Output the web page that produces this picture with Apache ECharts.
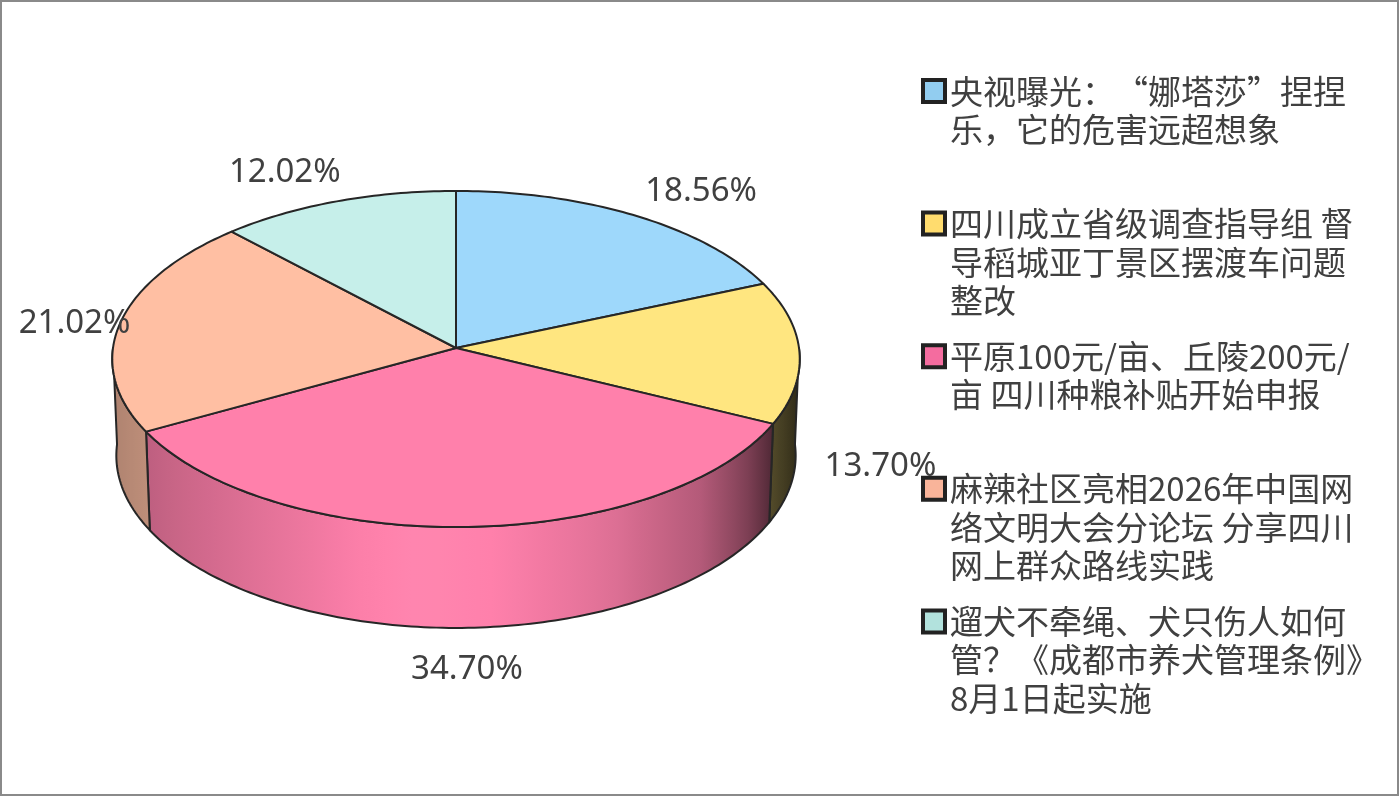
<!DOCTYPE html>
<html><head><meta charset="utf-8">
<script src="https://cdn.jsdelivr.net/npm/echarts@6/dist/echarts.min.js"></script>
<style>html,body{margin:0;padding:0;background:#fff}#c{width:1400px;height:797px}</style>
</head><body><div id="c"></div>
<script>
// ---------------- data ----------------
const categories = [
  '央视曝光：“娜塔莎”捏捏乐，它的危害远超想象',
  '四川成立省级调查指导组 督导稻城亚丁景区摆渡车问题整改',
  '平原100元/亩、丘陵200元/亩 四川种粮补贴开始申报',
  '麻辣社区亮相2026年中国网络文明大会分论坛 分享四川网上群众路线实践',
  '遛犬不牵绳、犬只伤人如何管？《成都市养犬管理条例》8月1日起实施'
];
const values = [18.56, 13.70, 34.70, 21.02, 12.02];

// ---------------- style / layout ----------------
const colors = ['#9ED8FB', '#FFE680', '#FF80AB', '#FFBFA3', '#C6EFEA'];
const legendColors = ['#92CDF0', '#FFDC6E', '#F46C9F', '#F9B49A', '#B2E2DD'];
const P = {cx: 456, cy: 348, S: 343, alpha: 29.2 * Math.PI / 180, k: 0.0749, h: 0.326};
const labelOffsets = [[66, -24], [81, 114], [2, 143], [-46, 1], [-52, -29]];
const LEG = {left: 921, firstIconCenter: 93, slot: 132.6, font: 33, lineH: 38.5, wrapW: 420, icon: 22, border: 4};
// brightness of side wall vs sin(angle) (-1 = far left, +1 = far right)
const brightTable = [[-1, 0.68], [-0.81, 0.78], [-0.45, 0.92], [-0.1, 1.05], [0.1, 1.0], [0.42, 0.88], [0.69, 0.70], [0.82, 0.50], [0.9, 0.32], [1, 0.18]];

const total = values.reduce((a, b) => a + b, 0);
const starts = [0];
values.forEach((v, i) => starts.push(starts[i] + v / total * Math.PI * 2));

function proj(phi, r, z) {
  const X = r * Math.sin(phi), Y = -r * Math.cos(phi);
  const ca = Math.cos(P.alpha), sa = Math.sin(P.alpha);
  const depth = 1 - P.k * (Y * ca + z * sa);
  return [P.cx + P.S * X / depth, P.cy - P.S * (-Y * sa + z * ca) / depth];
}
function bright(u) {
  for (let i = 0; i < brightTable.length - 1; i++) {
    const [u0, b0] = brightTable[i], [u1, b1] = brightTable[i + 1];
    if (u >= u0 && u <= u1) return b0 + (b1 - b0) * (u - u0) / (u1 - u0);
  }
  return u < 0 ? brightTable[0][1] : brightTable[brightTable.length - 1][1];
}
function shade(hex, b) {
  const n = parseInt(hex.slice(1), 16);
  let c = [(n >> 16) & 255, (n >> 8) & 255, n & 255];
  if (b <= 1) c = c.map(v => v * b);
  else c = c.map(v => v + (255 - v) * (b - 1));
  return 'rgb(' + c.map(v => Math.round(Math.max(0, Math.min(255, v)))).join(',') + ')';
}

const DEG = Math.PI / 180;
function renderSlice(i) {
  return function () {
    const a0 = starts[i], a1 = starts[i + 1];
    const children = [];
    const s0 = Math.max(a0, Math.PI / 2), s1 = Math.min(a1, Math.PI * 1.5);
    if (s1 > s0) {
      const n = Math.max(2, Math.ceil((s1 - s0) / DEG));
      const pts = [];
      for (let j = 0; j <= n; j++) pts.push(proj(s0 + (s1 - s0) * j / n, 1, 0));
      for (let j = n; j >= 0; j--) pts.push(proj(s0 + (s1 - s0) * j / n, 1, -P.h));
      const xa = proj(s0, 1, -P.h / 2)[0], xb = proj(s1, 1, -P.h / 2)[0];
      const xmin = Math.min(xa, xb), xmax = Math.max(xa, xb);
      const stops = [];
      const m = 30;
      for (let j = 0; j <= m; j++) {
        const phi = s0 + (s1 - s0) * j / m;
        const x = proj(phi, 1, -P.h / 2)[0];
        stops.push({offset: Math.max(0, Math.min(1, (x - xmin) / (xmax - xmin))), color: shade(colors[i], bright(Math.sin(phi)))});
      }
      stops.sort((p, q) => p.offset - q.offset);
      children.push({
        type: 'polygon', shape: {points: pts},
        style: {fill: {type: 'linear', x: xmin, y: 0, x2: xmax, y2: 0, global: true, colorStops: stops},
          stroke: '#262626', lineWidth: 2, lineJoin: 'round'}
      });
    }
    const tp = [proj(0, 0, 0)];
    const nt = Math.max(2, Math.ceil((a1 - a0) / DEG));
    for (let j = 0; j <= nt; j++) tp.push(proj(a0 + (a1 - a0) * j / nt, 1, 0));
    children.push({type: 'polygon', shape: {points: tp},
      style: {fill: colors[i], stroke: '#262626', lineWidth: 2, lineJoin: 'round'}});
    const an = proj((a0 + a1) / 2, 1, 0);
    children.push({type: 'text', z2: 20,
      x: an[0] + labelOffsets[i][0], y: an[1] + labelOffsets[i][1],
      style: {text: (values[i] / total * 100).toFixed(2) + '%', fill: '#404040',
        font: '33px "Noto Sans"', align: 'center', verticalAlign: 'middle'}});
    return {type: 'group', children};
  };
}

// line wrapping for the legend
const measureCtx = document.createElement('canvas').getContext('2d');
measureCtx.font = LEG.font + 'px "Noto Sans CJK SC"';
const closing = '，。、？！：；》）”’」』】,.?!:;)';
const opening = '“‘《（「『【(';
function wrap(text) {
  const lines = [];
  let cur = '';
  for (const ch of text) {
    const t = cur + ch;
    if (cur && measureCtx.measureText(t).width > LEG.wrapW && closing.indexOf(ch) < 0) {
      let carry = '';
      while (cur.length && opening.indexOf(cur[cur.length - 1]) >= 0) { carry = cur[cur.length - 1] + carry; cur = cur.slice(0, -1); }
      lines.push(cur.replace(/\s+$/, ''));
      cur = (carry + ch).replace(/^\s+/, '');
    } else cur = t;
  }
  if (cur) lines.push(cur);
  return lines;
}
const wrapped = categories.map(wrap);

const series = categories.map((name, i) => ({
  type: 'custom', name, coordinateSystem: 'none', data: [[i]],
  itemStyle: {color: colors[i]}, renderItem: renderSlice(i), silent: true
}));

// the text block is centred on the icon; n-1 empty lines above put the first line level with the icon
const legends = categories.map((name, i) => {
  const n = wrapped[i].length;
  const text = new Array(n - 1).fill(' ').concat(wrapped[i]).join('\n');
  return {
    data: [name], orient: 'vertical', left: LEG.left,
    top: LEG.firstIconCenter + i * LEG.slot - (2 * n - 1) * LEG.lineH / 2 - 2,
    padding: 0, itemGap: 0, itemWidth: LEG.icon, itemHeight: LEG.icon, icon: 'rect', selectedMode: false,
    itemStyle: {color: legendColors[i], borderColor: '#222', borderWidth: LEG.border},
    formatter: () => text,
    textStyle: {fontSize: LEG.font, lineHeight: LEG.lineH, color: '#404040', fontFamily: 'Noto Sans CJK SC'}
  };
});

const chart = echarts.init(document.getElementById('c'), null, {renderer: 'canvas'});
chart.setOption({
  backgroundColor: '#fff',
  animation: false,
  legend: legends,
  graphic: [{type: 'rect', shape: {x: 1, y: 1, width: 1397, height: 794}, style: {fill: 'none', stroke: '#8a8a8a', lineWidth: 2}, silent: true}],
  series
});
</script></body></html>
